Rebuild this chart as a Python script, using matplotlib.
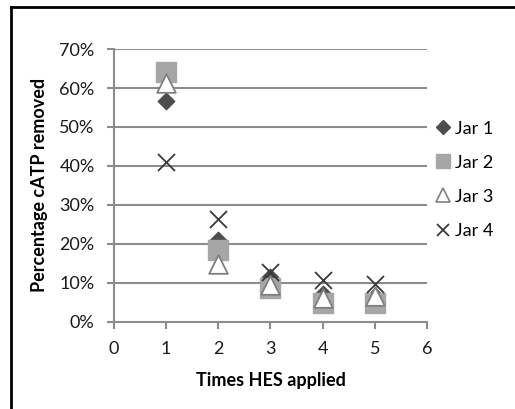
import matplotlib.pyplot as plt
from matplotlib.lines import Line2D

plt.rcParams['font.family'] = ['Lato', 'DejaVu Sans']

times = [1, 2, 3, 4, 5]
jar1 = [0.566, 0.21, 0.114, 0.071, 0.066]
jar2 = [0.642, 0.184, 0.086, 0.047, 0.047]
jar3 = [0.612, 0.148, 0.094, 0.060, 0.066]
jar4 = [0.410, 0.263, 0.127, 0.107, 0.098]

x_ticks = [0, 1, 2, 3, 4, 5, 6]
y_ticks = [0, 0.1, 0.2, 0.3, 0.4, 0.5, 0.6, 0.7]
y_labels = ['0%', '10%', '20%', '30%', '40%', '50%', '60%', '70%']


def main():
    fig = plt.figure(figsize=(5.15, 4.09), dpi=100)
    ax = fig.add_axes([0.2214, 0.2134, 0.6075, 0.6666])

    # grey gridlines behind the points
    for y in y_ticks[1:]:
        ax.axhline(y, color='#8c8c8c', lw=1.5, zorder=1)

    ax.scatter(times, jar1, marker='D', s=70, color='#4d4d4d', label='Jar 1', zorder=3)
    ax.scatter(times, jar2, marker='s', s=190, color='#a6a6a6', label='Jar 2', zorder=3)
    ax.scatter(times, jar3, marker='^', s=180, facecolor='white', edgecolor='#7f7f7f',
               linewidths=1.3, label='Jar 3', zorder=4)
    ax.scatter(times, jar4, marker='x', s=150, color='#3a3a3a', linewidths=1.3,
               label='Jar 4', zorder=5)

    ax.set_xlim(0, 6)
    ax.set_ylim(0, 0.7)
    ax.set_xticks(x_ticks)
    ax.set_yticks(y_ticks)
    ax.set_yticklabels(y_labels)
    for s in ['top', 'right']:
        ax.spines[s].set_visible(False)
    for s in ['left', 'bottom']:
        ax.spines[s].set_color('#8c8c8c')
        ax.spines[s].set_linewidth(1.5)
    ax.tick_params(axis='both', colors='#8c8c8c', width=1.5, length=5,
                   labelsize=13, labelcolor='#1a1a1a')
    ax.tick_params(axis='x', pad=9)
    ax.tick_params(axis='y', pad=9)

    ax.set_xlabel('Times HES applied', fontsize=13, fontweight='bold', labelpad=11)
    ax.set_ylabel('Percentage cATP removed', fontsize=13, fontweight='bold', labelpad=8)

    handles = [
        Line2D([], [], ls='', marker='D', ms=7, color='#4d4d4d'),
        Line2D([], [], ls='', marker='s', ms=10, color='#a6a6a6'),
        Line2D([], [], ls='', marker='^', ms=10, mfc='white', mec='#7f7f7f', mew=1.2),
        Line2D([], [], ls='', marker='x', ms=9, color='#3a3a3a', mew=1.3),
    ]
    fig.legend(handles, ['Jar 1', 'Jar 2', 'Jar 3', 'Jar 4'], loc='upper left',
               bbox_to_anchor=(0.845, 0.705), frameon=False, fontsize=13,
               handlelength=0.9, handletextpad=0.2, labelspacing=1.0,
               borderaxespad=0, borderpad=0)

    # chart frame (top and left edges are visible in the crop)
    fig.add_artist(Line2D([0.021, 0.021], [0, 0.982], color='black', lw=2,
                          transform=fig.transFigure))
    fig.add_artist(Line2D([0.021, 1.0], [0.982, 0.982], color='black', lw=2,
                          transform=fig.transFigure))

    fig.savefig('out.png', dpi=100)


if __name__ == '__main__':
    main()
